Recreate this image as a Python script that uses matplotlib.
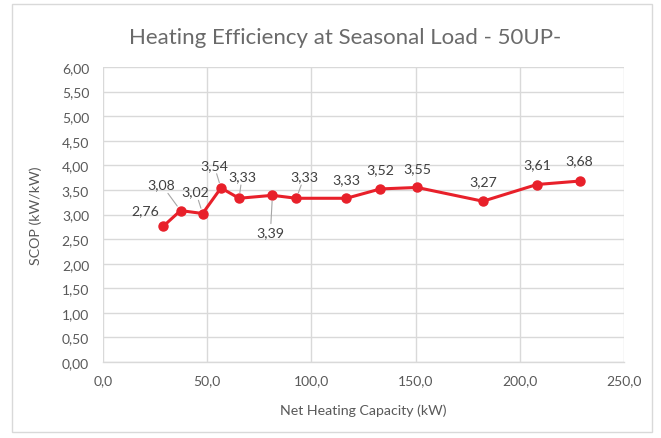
import matplotlib
matplotlib.use("Agg")
import matplotlib.pyplot as plt
from matplotlib.patches import Rectangle
from matplotlib.ticker import FuncFormatter, MultipleLocator

capacity = [28.9, 37.2, 47.8, 56.6, 65.3, 81.3, 92.8, 116.8, 133.1, 150.7, 182.3, 208.2, 228.7]
scop = [2.76, 3.08, 3.02, 3.54, 3.33, 3.39, 3.33, 3.33, 3.52, 3.55, 3.27, 3.61, 3.68]

title = "Heating Efficiency at Seasonal Load - 50UP-"
x_label = "Net Heating Capacity (kW)"
y_label = "SCOP (kW/kW)"

# label offsets in pixels (dx, dy; dy up) and whether a leader line is drawn
label_offsets = [(-18, 16), (-19, 26), (-7, 22), (-7, 23), (3, 22), (-2, -37), (8, 22),
                 (0, 19), (0, 20), (0, 19), (0, 20), (0, 20), (0, 21)]
leaders = [False, True, True, True, True, True, True,
           False, False, False, False, False, False]

plt.rcParams['font.family'] = ['Lato', 'DejaVu Sans']

text_col = "#595959"
grid_col = "#D9D9D9"
red = "#E8202A"

fig = plt.figure(figsize=(6.61, 4.39), dpi=100)
fig.patches.append(Rectangle((12 / 661, 1 - 433 / 439), 640 / 661, 428 / 439,
                             transform=fig.transFigure, fill=False,
                             edgecolor=grid_col, lw=1.0))
ax = fig.add_axes([103 / 661, 1 - 363 / 439, 521 / 661, 295 / 439])

ax.plot(capacity, scop, color=red, lw=2.2, marker="o", markersize=6.5, zorder=3)

for x, y, (dx, dy), lead in zip(capacity, scop, label_offsets, leaders):
    txt = f"{y:.2f}".replace(".", ",")
    kw = dict(xy=(x, y), xytext=(dx * 0.72, dy * 0.72), textcoords="offset points",
              ha="center", va="center", fontsize=10.2, color="#404040")
    if lead:
        kw["arrowprops"] = dict(arrowstyle="-", color="#A6A6A6", lw=0.8,
                                shrinkA=0, shrinkB=4)
    ax.annotate(txt, **kw)

ax.set_xlim(0, 250)
ax.set_ylim(0, 6)
ax.xaxis.set_major_locator(MultipleLocator(50))
ax.yaxis.set_major_locator(MultipleLocator(0.5))
ax.xaxis.set_major_formatter(FuncFormatter(lambda v, p: f"{v:.1f}".replace(".", ",")))
ax.yaxis.set_major_formatter(FuncFormatter(lambda v, p: f"{v:.2f}".replace(".", ",")))
ax.grid(True, color=grid_col, lw=1.0)
ax.set_axisbelow(True)
for s in ["top", "right", "left"]:
    ax.spines[s].set_visible(False)
ax.spines["bottom"].set_color(grid_col)
ax.spines["bottom"].set_linewidth(1.0)
ax.tick_params(length=0, colors=text_col, labelsize=10)
ax.tick_params(axis="y", pad=10)
ax.tick_params(axis="x", pad=9)

ax.set_xlabel(x_label, fontsize=10.2, color=text_col, labelpad=12)
ax.set_ylabel(y_label, fontsize=10.3, color=text_col, labelpad=14)
fig.text(345 / 661, 1 - 38 / 439, title, ha="center", va="center",
         fontsize=16, color="#6a6a6a")

fig.savefig("out.png", dpi=100)
